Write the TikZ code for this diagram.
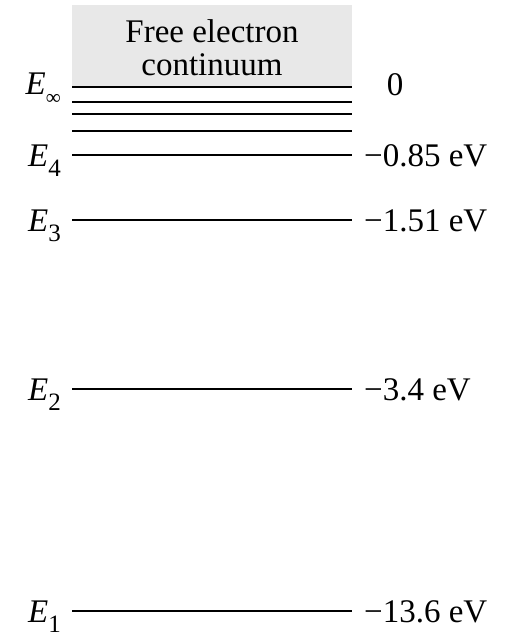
\documentclass[tikz,border=0pt]{standalone}
\usepackage{fontspec}
\setmainfont{Liberation Serif}
\usetikzlibrary{positioning}
\newcommand{\lvl}[1]{\textit{E}\raisebox{-10pt}{\fontsize{25}{25}\selectfont #1}}

\begin{document}
\begin{tikzpicture}[x=1pt,y=-1pt,
   every node/.style={font=\fontsize{33}{34}\selectfont,inner sep=0pt},
   level/.style={line width=1.9pt},
   lab/.style={anchor=base east},
   val/.style={anchor=base west}]
  \useasboundingbox (0,0) rectangle (508,633);
  % continuum band
  \fill[gray!18] (72,5) rectangle (352,87);
  \node (free) [anchor=base] at (212,42) {Free electron};
  \node (cont) [anchor=base] at (212,75) {continuum};
  % energy levels
  \foreach \n/\y in {inf/87,a/102,b/114,c/131,4/155,3/220,2/389,1/611}{
    \coordinate (\n w) at (72,\y);
    \coordinate (\n e) at (352,\y);
    \draw[level] (\n w) -- (\n e);
  }
  \node[lab] (Einf) at (61,94) {\lvl{\fontsize{21}{21}\selectfont ∞}};
  \node[lab] (E4) at (61,166) {\lvl{4}};
  \node[lab] (E3) at (61,231) {\lvl{3}};
  \node[lab] (E2) at (61,400) {\lvl{2}};
  \node[lab] (E1) at (61,622) {\lvl{1}};
  \node (V0) [anchor=base] at (395,95) {0};
  \node[val] (V4) at (364,166) {−0.85 eV};
  \node[val] (V3) at (364,231) {−1.51 eV};
  \node[val] (V2) at (364,400) {−3.4 eV};
  \node[val] (V1) at (364,622) {−13.6 eV};
\end{tikzpicture}
\end{document}
